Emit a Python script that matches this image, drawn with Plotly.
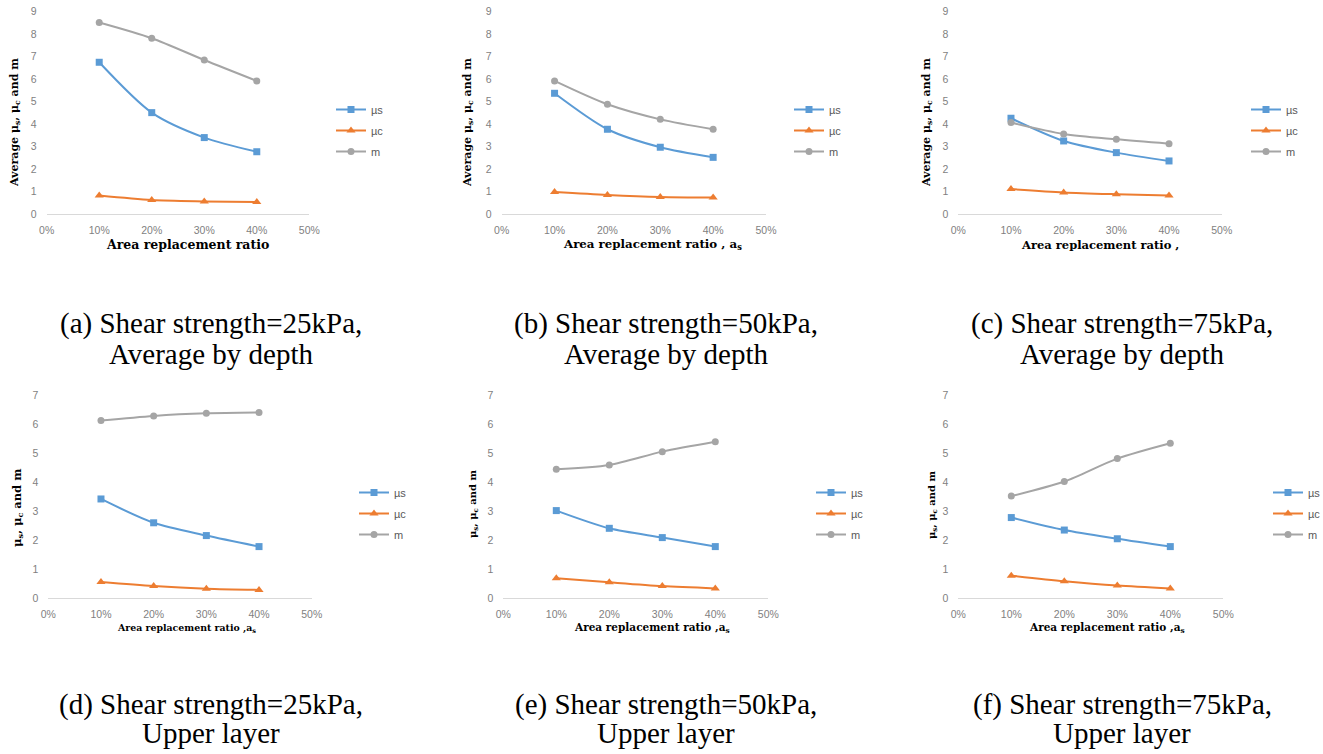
import plotly.graph_objects as go

# ---------------- data ----------------
ratio = [0.1, 0.2, 0.3, 0.4]
x_ticks = [0, 0.1, 0.2, 0.3, 0.4, 0.5]
x_tick_text = ["0%", "10%", "20%", "30%", "40%", "50%"]
series_names = ["µs", "µc", "m"]

a_mus = [6.75, 4.51, 3.40, 2.77]
a_muc = [0.82, 0.62, 0.56, 0.53]
a_m = [8.52, 7.82, 6.85, 5.92]

b_mus = [5.37, 3.77, 2.97, 2.52]
b_muc = [0.98, 0.85, 0.76, 0.73]
b_m = [5.92, 4.88, 4.21, 3.77]

c_mus = [4.26, 3.25, 2.73, 2.36]
c_muc = [1.11, 0.96, 0.88, 0.82]
c_m = [4.07, 3.56, 3.32, 3.13]

d_mus = [3.42, 2.60, 2.16, 1.78]
d_muc = [0.56, 0.42, 0.33, 0.29]
d_m = [6.12, 6.28, 6.37, 6.40]

e_mus = [3.02, 2.41, 2.09, 1.78]
e_muc = [0.69, 0.55, 0.42, 0.34]
e_m = [4.44, 4.59, 5.05, 5.39]

f_mus = [2.78, 2.35, 2.05, 1.78]
f_muc = [0.78, 0.59, 0.44, 0.34]
f_m = [3.52, 4.02, 4.81, 5.34]

captions_line1 = ["(a) Shear strength=25kPa,", "(b) Shear strength=50kPa,", "(c) Shear strength=75kPa,",
                  "(d) Shear strength=25kPa,", "(e) Shear strength=50kPa,", "(f) Shear strength=75kPa,"]
captions_line2 = ["Average by depth", "Average by depth", "Average by depth",
                  "Upper layer", "Upper layer", "Upper layer"]
x_titles = ["Area replacement ratio", "Area replacement ratio , a<sub>s</sub>", "Area replacement ratio ,",
            "Area replacement ratio ,a<sub>s</sub>", "Area replacement ratio ,a<sub>s</sub>",
            "Area replacement ratio ,a<sub>s</sub>"]
y_titles = ["Average μ<sub>s</sub>, μ<sub>c</sub> and m"] * 3 + ["μ<sub>s</sub>, μ<sub>c</sub> and m"] * 3
y_max = [9, 9, 9, 7, 7, 7]

panels = [
    (a_mus, a_muc, a_m), (b_mus, b_muc, b_m), (c_mus, c_muc, c_m),
    (d_mus, d_muc, d_m), (e_mus, e_muc, e_m), (f_mus, f_muc, f_m),
]

# ---------------- layout geometry (pixels) ----------------
W, H = 1323, 754
# plot area: x0, x1, ytop, ybottom
boxes = [
    (46.7, 309.3, 11.7, 214.0),
    (501.7, 766.0, 11.7, 214.0),
    (958.3, 1221.7, 11.7, 214.0),
    (48.3, 311.7, 395.0, 598.3),
    (503.3, 768.3, 395.0, 598.3),
    (958.3, 1223.3, 395.0, 598.3),
]
legend_pos = [(331, 95), (789, 95), (1246, 95), (354, 478), (811, 478), (1268, 478)]
ytitle_pos = [(15, 123), (468, 123), (927, 123), (17, 508), (473, 504), (932, 505)]
xtitle_pos = [(188, 245), (652, 245), (1100, 245), (186, 628), (652, 628), (1107, 628)]
xtitle_size = [12.5, 11.8, 11.5, 9.4, 10.5, 10.5]
ytitle_size = [11, 11, 11, 11.5, 10, 10]
caption_x = [211, 666, 1122, 211, 666, 1122]
caption_y = [(323.5, 353.5), (323.5, 353.5), (323.5, 353.5), (704, 733), (704, 733), (704, 733)]

colors = ["#5B9BD5", "#ED7D31", "#A5A5A5"]
symbols = ["square", "triangle-up", "circle"]
msizes = [7, 8, 7]

def fx(px):
    return px / W

def fy(py):
    return 1 - py / H

fig = go.Figure()
layout = dict(
    width=W, height=H, margin=dict(l=0, r=0, t=0, b=0, pad=0, autoexpand=False),
    paper_bgcolor="white", plot_bgcolor="white", showlegend=True,
)
annotations = []

tick_font = dict(family="Liberation Sans", size=10.5, color="#7F7F7F")

for i, (vals, box) in enumerate(zip(panels, boxes)):
    n = i + 1
    xa = "xaxis" if n == 1 else f"xaxis{n}"
    ya = "yaxis" if n == 1 else f"yaxis{n}"
    xref = "x" if n == 1 else f"x{n}"
    yref = "y" if n == 1 else f"y{n}"
    lg = "legend" if n == 1 else f"legend{n}"
    x0, x1, yt, yb = box
    layout[xa] = dict(
        domain=[fx(x0), fx(x1)], range=[0, 0.5], anchor=yref,
        tickvals=x_ticks, ticktext=x_tick_text, showgrid=False, zeroline=False,
        showline=True, linecolor="#D9D9D9", linewidth=1, ticks="",
        tickfont=tick_font, ticklabelstandoff=6, fixedrange=True, automargin=False,
    )
    layout[ya] = dict(
        domain=[fy(yb), fy(yt)], range=[0, y_max[i]], anchor=xref,
        tickvals=list(range(0, y_max[i] + 1)), showgrid=False, zeroline=False,
        showline=False, ticks="", tickfont=tick_font, ticklabelstandoff=9, fixedrange=True,
        automargin=False,
    )
    for k, (name, series) in enumerate(zip(series_names, vals)):
        fig.add_trace(go.Scatter(
            x=ratio, y=series, name=name, mode="lines+markers",
            xaxis=xref, yaxis=yref, legend=lg, legendgroup=f"{n}-{k}",
            line=dict(color=colors[k], width=2, shape="spline", smoothing=0.8),
            marker=dict(symbol=symbols[k], size=msizes[k], color=colors[k]),
            cliponaxis=False,
        ))
    lx, ly = legend_pos[i]
    layout[lg] = dict(
        x=fx(lx), y=fy(ly), xanchor="left", yanchor="top", xref="paper", yref="paper",
        bgcolor="rgba(0,0,0,0)", font=dict(family="Liberation Sans", size=11, color="#595959"),
        tracegroupgap=2, traceorder="grouped", itemwidth=30,
    )
    tx, ty = ytitle_pos[i]
    annotations.append(dict(
        x=fx(tx), y=fy(ty), xref="paper", yref="paper", text=f"<b>{y_titles[i]}</b>",
        showarrow=False, textangle=-90, xanchor="center", yanchor="middle",
        font=dict(family="DejaVu Serif", size=ytitle_size[i], color="black"),
    ))
    tx, ty = xtitle_pos[i]
    annotations.append(dict(
        x=fx(tx), y=fy(ty), xref="paper", yref="paper", text=f"<b>{x_titles[i]}</b>",
        showarrow=False, xanchor="center", yanchor="middle",
        font=dict(family="DejaVu Serif", size=xtitle_size[i], color="black"),
    ))
    for line_text, cy in zip((captions_line1[i], captions_line2[i]), caption_y[i]):
        annotations.append(dict(
            x=fx(caption_x[i]), y=fy(cy), xref="paper", yref="paper", text=line_text,
            showarrow=False, xanchor="center", yanchor="middle",
            font=dict(family="Liberation Serif", size=29, color="black"),
        ))

layout["annotations"] = annotations
fig.update_layout(**layout)
fig.write_html(
    "out.html",
    config={"displayModeBar": False},
    post_script="document.body.style.margin='0';document.body.style.padding='0';"
                "document.body.style.overflow='hidden';",
)
